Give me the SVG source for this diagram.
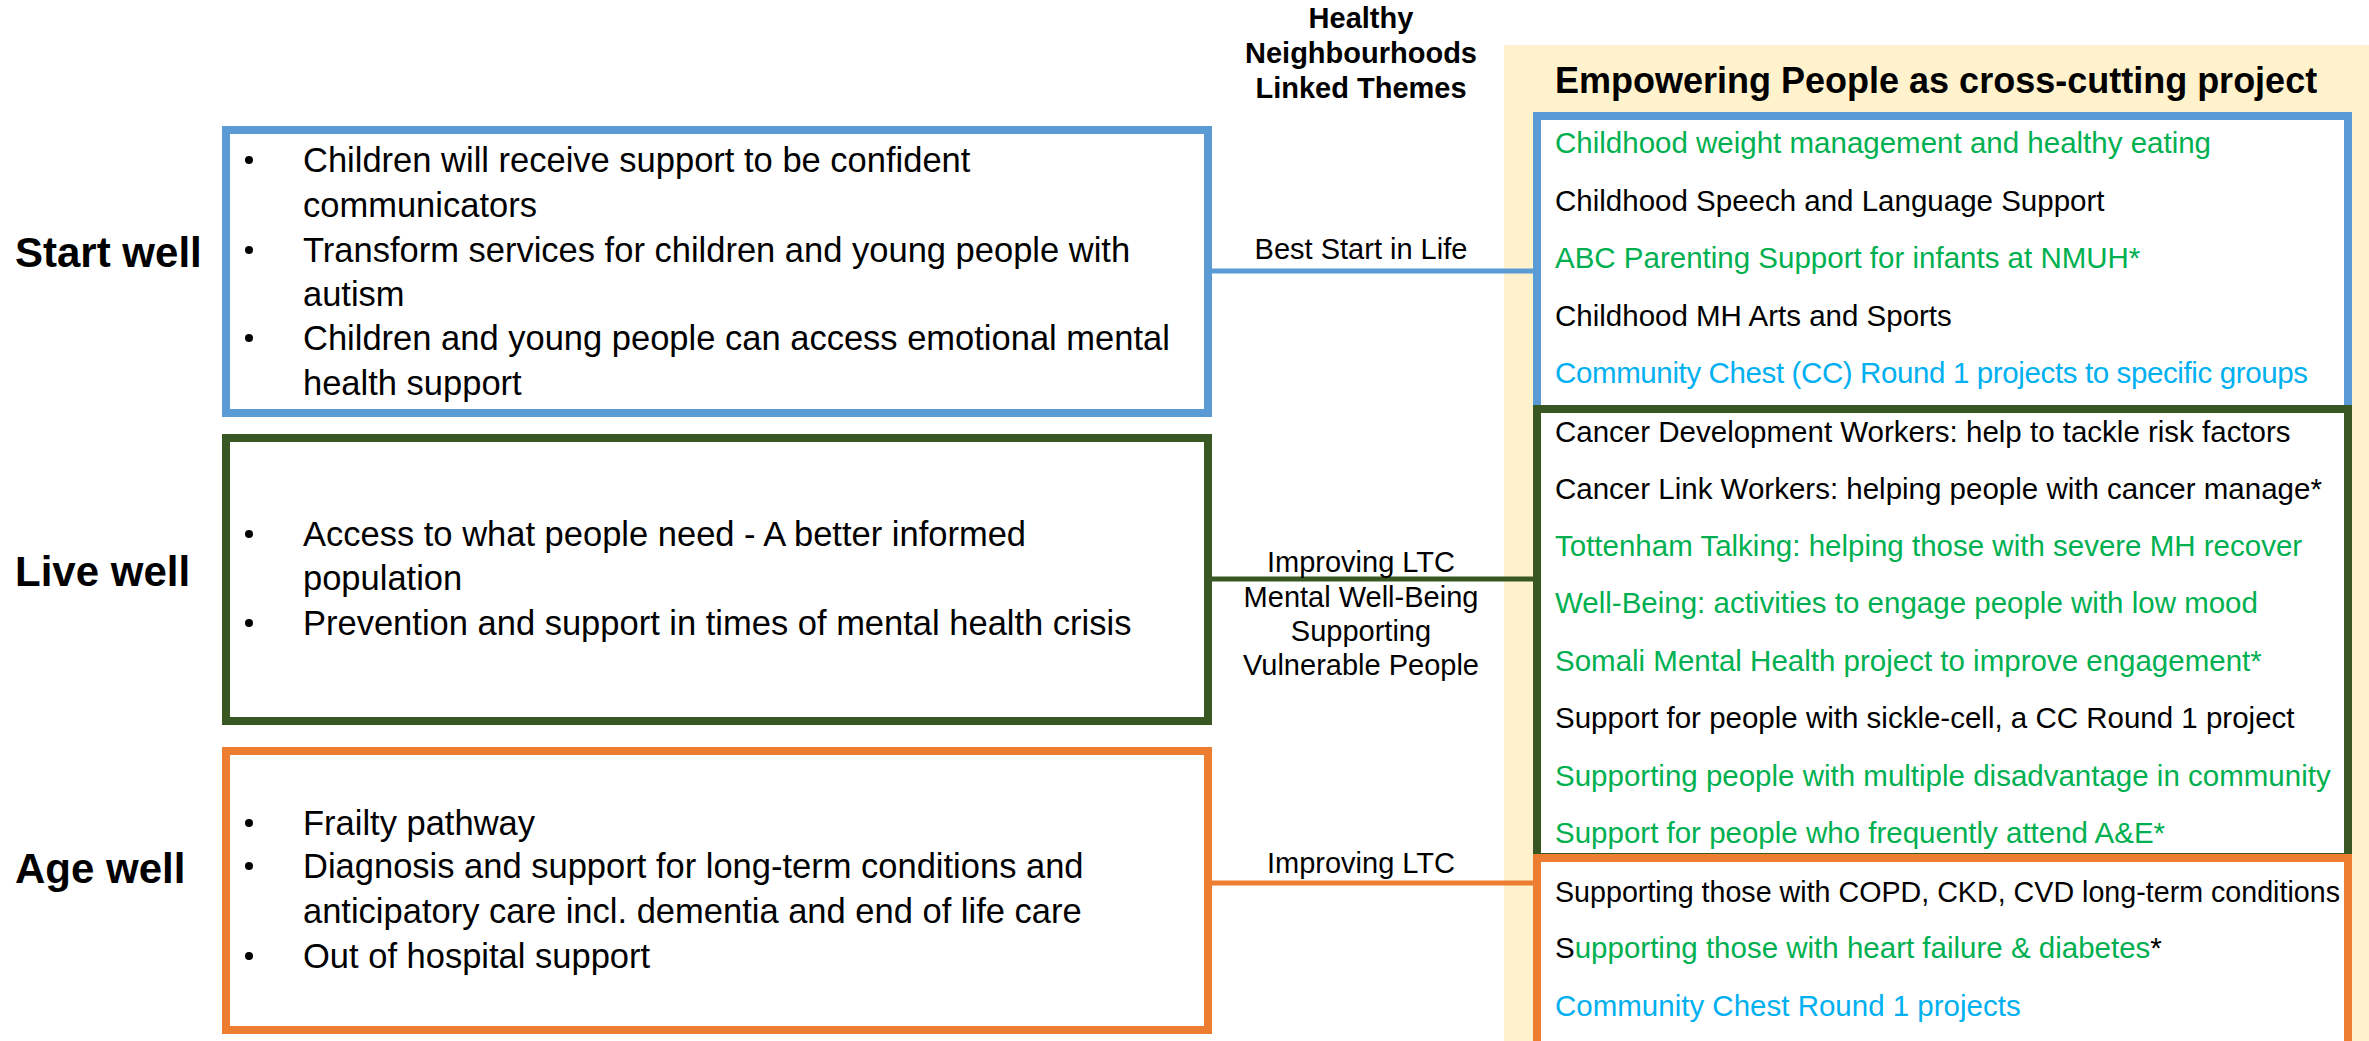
<svg xmlns="http://www.w3.org/2000/svg" width="2369" height="1041" viewBox="0 0 2369 1041">
  <style>
    text { font-family: "Liberation Sans", Arial, sans-serif; fill: #000; }
    .stage { font-size: 42px; font-weight: bold; }
    .item { font-size: 34.5px; }
    .theme { font-size: 29px; text-anchor: middle; }
    .head { font-size: 29px; font-weight: bold; text-anchor: middle; }
    .title { font-size: 36px; font-weight: bold; }
    .proj { font-size: 29.5px; }
    .g { fill: #00B050; }
    .b { fill: #00B0F0; }
    .k { fill: #000; }
    .box { fill: #fff; stroke-width: 8; }
    .blue { stroke: #5B9BD5; }
    .green { stroke: #385723; }
    .orange { stroke: #ED7D31; }
    .link { stroke-width: 5; fill: none; }
  </style>

  <!-- cross-cutting panel background -->
  <rect id="panel-bg" x="1504" y="45" width="865" height="996" fill="#FFF2CC"/>

  <!-- column header -->
  <g id="themes-header">
    <text class="head" x="1361" y="28">Healthy</text>
    <text class="head" x="1361" y="63">Neighbourhoods</text>
    <text class="head" x="1361" y="98">Linked Themes</text>
  </g>

  <!-- connectors between stage boxes and project boxes -->
  <g id="connectors">
    <line class="link blue" x1="1212" y1="271" x2="1533" y2="271"/>
    <line class="link green" x1="1212" y1="579" x2="1533" y2="579"/>
    <line class="link orange" x1="1212" y1="883" x2="1533" y2="883"/>
    <text class="theme" x="1361" y="259">Best Start in Life</text>
    <text class="theme" x="1361" y="572">Improving LTC</text>
    <text class="theme" x="1361" y="607">Mental Well-Being</text>
    <text class="theme" x="1361" y="641">Supporting</text>
    <text class="theme" x="1361" y="675">Vulnerable People</text>
    <text class="theme" x="1361" y="873">Improving LTC</text>
  </g>

  <!-- Start well -->
  <g id="start-well">
    <text class="stage" x="15" y="267">Start well</text>
    <rect class="box blue" x="226" y="130" width="982" height="283"/>
    <circle cx="249" cy="160" r="4"/>
    <circle cx="249" cy="250" r="4"/>
    <circle cx="249" cy="338" r="4"/>
    <text class="item" x="303" y="172">Children will receive support to be confident</text>
    <text class="item" x="303" y="217">communicators</text>
    <text class="item" x="303" y="262">Transform services for children and young people with</text>
    <text class="item" x="303" y="306">autism</text>
    <text class="item" x="303" y="350">Children and young people can access emotional mental</text>
    <text class="item" x="303" y="395">health support</text>
  </g>

  <!-- Live well -->
  <g id="live-well">
    <text class="stage" x="15" y="586">Live well</text>
    <rect class="box green" x="226" y="438" width="982" height="283"/>
    <circle cx="249" cy="534" r="4"/>
    <circle cx="249" cy="623" r="4"/>
    <text class="item" x="303" y="546">Access to what people need - A better informed</text>
    <text class="item" x="303" y="590">population</text>
    <text class="item" x="303" y="635">Prevention and support in times of mental health crisis</text>
  </g>

  <!-- Age well -->
  <g id="age-well">
    <text class="stage" x="15" y="883">Age well</text>
    <rect class="box orange" x="226" y="751" width="982" height="279"/>
    <circle cx="249" cy="823" r="4"/>
    <circle cx="249" cy="866" r="4"/>
    <circle cx="249" cy="956" r="4"/>
    <text class="item" x="303" y="835">Frailty pathway</text>
    <text class="item" x="303" y="878">Diagnosis and support for long-term conditions and</text>
    <text class="item" x="303" y="923">anticipatory care incl. dementia and end of life care</text>
    <text class="item" x="303" y="968">Out of hospital support</text>
  </g>

  <!-- Empowering People panel -->
  <g id="empowering-people">
    <text class="title" x="1555" y="93">Empowering People as cross-cutting project</text>
  </g>

  <g id="projects-start">
    <rect class="box blue" x="1537" y="116" width="811" height="293"/>
    <text class="proj g" x="1555" y="153">Childhood weight management and healthy eating</text>
    <text class="proj k" x="1555" y="211">Childhood Speech and Language Support</text>
    <text class="proj g" x="1555" y="268">ABC Parenting Support for infants at NMUH*</text>
    <text class="proj k" x="1555" y="326">Childhood MH Arts and Sports</text>
    <text class="proj b" x="1555" y="383" textLength="753">Community Chest (CC) Round 1 projects to specific groups</text>
  </g>

  <g id="projects-live">
    <rect class="box green" x="1537" y="409" width="811" height="448"/>
    <text class="proj k" x="1555" y="442">Cancer Development Workers: help to tackle risk factors</text>
    <text class="proj k" x="1555" y="499">Cancer Link Workers: helping people with cancer manage*</text>
    <text class="proj g" x="1555" y="556">Tottenham Talking: helping those with severe MH recover</text>
    <text class="proj g" x="1555" y="613">Well-Being: activities to engage people with low mood</text>
    <text class="proj g" x="1555" y="671">Somali Mental Health project to improve engagement*</text>
    <text class="proj k" x="1555" y="728">Support for people with sickle-cell, a CC Round 1 project</text>
    <text class="proj g" x="1555" y="786">Supporting people with multiple disadvantage in community</text>
    <text class="proj g" x="1555" y="843">Support for people who frequently attend A&amp;E*</text>
  </g>

  <g id="projects-age">
    <rect class="box orange" x="1537" y="858" width="811" height="200"/>
    <text class="proj k" x="1555" y="902" textLength="785" lengthAdjust="spacingAndGlyphs">Supporting those with COPD, CKD, CVD long-term conditions</text>
    <text class="proj" x="1555" y="958"><tspan class="k">S</tspan><tspan class="g">upporting those with heart failure &amp; diabetes</tspan><tspan class="k">*</tspan></text>
    <text class="proj b" x="1555" y="1016">Community Chest Round 1 projects</text>
  </g>
</svg>
